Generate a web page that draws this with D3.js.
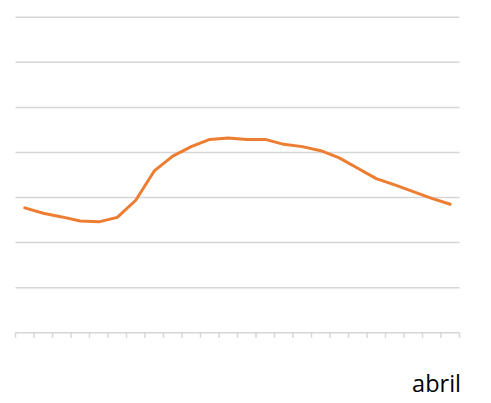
<!DOCTYPE html>
<html>
<head>
<meta charset="utf-8">
<script src="https://cdn.jsdelivr.net/npm/d3@7"></script>
<style>
  html, body { margin: 0; padding: 0; background: #fff; }
  svg { display: block; }
</style>
</head>
<body>
<svg id="chart" width="491" height="403"></svg>
<script>
// Data (24 points, unlabeled value axis)
const categories = d3.range(1, 25).map(String);
const values = [2.77, 2.65, 2.57, 2.48, 2.46, 2.56, 2.94, 3.59, 3.92, 4.13, 4.29, 4.32,
                4.29, 4.29, 4.18, 4.13, 4.04, 3.88, 3.65, 3.42, 3.28, 3.13, 2.98, 2.85];
const gridValues = [1, 2, 3, 4, 5, 6, 7];
const xAxisTitle = "abril";

const svg = d3.select("#chart");
const plotLeft = 15.5, plotRight = 459.5, plotTop = 17.3, plotBottom = 332.7;

const x = d3.scaleBand().domain(categories).range([plotLeft, plotRight]).paddingInner(0).paddingOuter(0);
const y = d3.scaleLinear().domain([0, 7]).range([plotBottom, plotTop]);

// gridlines
svg.append("g")
  .selectAll("line")
  .data(gridValues)
  .join("line")
  .attr("x1", plotLeft).attr("x2", plotRight)
  .attr("y1", d => y(d)).attr("y2", d => y(d))
  .attr("stroke", "#d6d6d6")
  .attr("stroke-width", 1.5);

// x axis with ticks between categories
const xAxis = svg.append("g").attr("transform", `translate(0,${y(0)})`);
xAxis.append("line")
  .attr("x1", plotLeft).attr("x2", plotRight)
  .attr("y1", 0).attr("y2", 0)
  .attr("stroke", "#d6d6d6").attr("stroke-width", 1.5);
const tickPos = categories.map(c => x(c)).concat([x(categories[categories.length - 1]) + x.bandwidth()]);
xAxis.selectAll("line.tick")
  .data(tickPos)
  .join("line")
  .attr("class", "tick")
  .attr("x1", d => d).attr("x2", d => d)
  .attr("y1", 0).attr("y2", 5)
  .attr("stroke", "#d6d6d6").attr("stroke-width", 1.5);

// line series
const line = d3.line()
  .x((d, i) => x(categories[i]) + x.bandwidth() / 2)
  .y(d => y(d));
svg.append("path")
  .datum(values)
  .attr("d", line)
  .attr("fill", "none")
  .attr("stroke", "#ED7D31")
  .attr("stroke-width", 3)
  .attr("stroke-linejoin", "round")
  .attr("stroke-linecap", "round");

// axis title
svg.append("text")
  .attr("x", 461)
  .attr("y", 392)
  .attr("text-anchor", "end")
  .attr("font-family", "'Open Sans', 'Noto Sans', sans-serif")
  .attr("font-size", 23.5)
  .attr("fill", "#000")
  .text(xAxisTitle);
</script>
</body>
</html>
